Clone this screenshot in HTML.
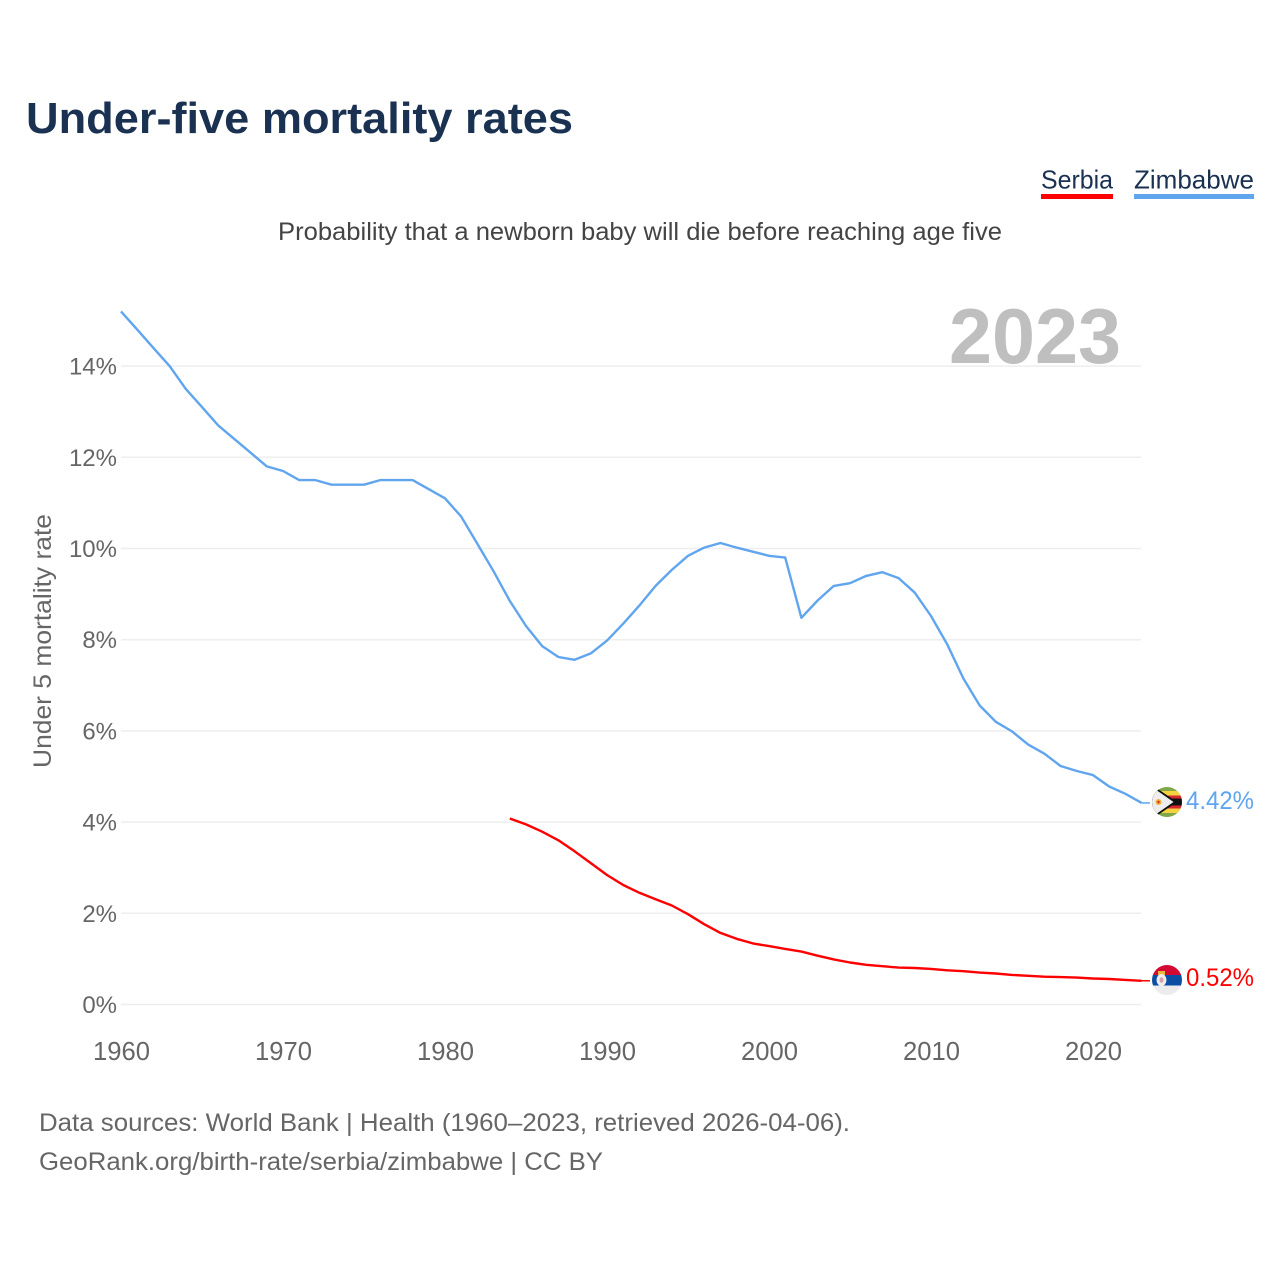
<!DOCTYPE html>
<html lang="en">
<head>
<meta charset="utf-8">
<title>Under-five mortality rates</title>
<style>
html,body{margin:0;padding:0;background:#fff}
svg{display:block}
text{font-family:"Liberation Sans",sans-serif}
</style>
</head>
<body>
<svg id="chart" width="1280" height="1280" viewBox="0 0 1280 1280" xmlns="http://www.w3.org/2000/svg">
  <defs>
    <clipPath id="clip-zim"><circle cx="1167" cy="802" r="15"/></clipPath>
    <clipPath id="clip-srb"><circle cx="1167" cy="980" r="15"/></clipPath>
  </defs>
  <text x="26" y="133" font-size="44" font-weight="700" fill="#1a3152" textLength="547" lengthAdjust="spacingAndGlyphs">Under-five mortality rates</text>
  <text x="278" y="240" font-size="25" fill="#444" textLength="724" lengthAdjust="spacingAndGlyphs">Probability that a newborn baby will die before reaching age five</text>

  <g>
    <text x="1041" y="188.5" font-size="26" fill="#1a3152" textLength="72" lengthAdjust="spacingAndGlyphs">Serbia</text>
    <rect x="1041" y="194" width="72" height="5" fill="#ff0000"/>
  </g>
  <g>
    <text x="1134" y="188.5" font-size="26" fill="#1a3152" textLength="120" lengthAdjust="spacingAndGlyphs">Zimbabwe</text>
    <rect x="1134" y="194" width="120" height="5" fill="#60a5ee"/>
  </g>

  <text x="949" y="363" font-size="78" font-weight="700" fill="#bfbfbf" textLength="172" lengthAdjust="spacingAndGlyphs">2023</text>
  <text transform="translate(51,768) rotate(-90)" x="0" y="0" font-size="25" fill="#666" textLength="254" lengthAdjust="spacingAndGlyphs">Under 5 mortality rate</text>

  <g id="grid"></g>
  <g id="y-ticks"></g>
  <g id="x-ticks"></g>
  <g id="series"></g>

  <g clip-path="url(#clip-zim)">
    <rect x="1152" y="787" width="30" height="30" fill="#7fa84a"/>
    <rect x="1152" y="791" width="30" height="4.5" fill="#f5d33f"/>
    <rect x="1152" y="795.5" width="30" height="3" fill="#d8272e"/>
    <rect x="1152" y="798.5" width="30" height="7" fill="#111"/>
    <rect x="1152" y="805.5" width="30" height="3" fill="#d8272e"/>
    <rect x="1152" y="808.5" width="30" height="4.5" fill="#f5d33f"/>
    <polygon points="1152,785 1177,802 1152,819" fill="#111"/>
    <polygon points="1152,787 1173.5,802 1152,817" fill="#eee"/>
    <circle cx="1158.5" cy="802" r="3" fill="#f0b23a"/>
    <circle cx="1158.5" cy="802" r="1.2" fill="#d8272e"/>
  </g>
  <g clip-path="url(#clip-srb)">
    <rect x="1152" y="965" width="30" height="10" fill="#d40a35"/>
    <rect x="1152" y="975" width="30" height="10.5" fill="#0b4ea2"/>
    <rect x="1152" y="985.5" width="30" height="10" fill="#ececec"/>
    <rect x="1158" y="971" width="7" height="4" fill="#e8b93a"/>
    <ellipse cx="1161.5" cy="980" rx="5" ry="6" fill="#eee"/>
    <ellipse cx="1161.5" cy="980" rx="2" ry="2.8" fill="#d9a0a8"/>
  </g>

  <text x="1186" y="809" font-size="25" fill="#60a5ee" textLength="68" lengthAdjust="spacingAndGlyphs">4.42%</text>
  <text x="1186" y="986" font-size="25" fill="#ff0000" textLength="68" lengthAdjust="spacingAndGlyphs">0.52%</text>

  <text x="39" y="1131" font-size="25" fill="#666" textLength="811" lengthAdjust="spacingAndGlyphs">Data sources: World Bank | Health (1960–2023, retrieved 2026-04-06).</text>
  <text x="39" y="1170" font-size="25" fill="#666" textLength="564" lengthAdjust="spacingAndGlyphs">GeoRank.org/birth-rate/serbia/zimbabwe | CC BY</text>
</svg>
<script>
const zimbabweStartYear = 1960;
const zimbabweValues = [15.2,14.8,14.4,14.0,13.5,13.1,12.7,12.4,12.1,11.8,11.7,11.5,11.5,11.4,11.4,11.4,11.5,11.5,11.5,11.3,11.1,10.7,10.1,9.5,8.85,8.3,7.86,7.62,7.56,7.7,7.98,8.35,8.75,9.18,9.53,9.84,10.02,10.12,10.02,9.93,9.84,9.8,8.48,8.86,9.18,9.24,9.4,9.48,9.35,9.03,8.52,7.9,7.15,6.56,6.2,5.99,5.7,5.5,5.23,5.12,5.03,4.78,4.62,4.42];
const serbiaStartYear = 1984;
const serbiaValues = [4.08,3.95,3.79,3.6,3.36,3.1,2.84,2.62,2.45,2.31,2.17,1.98,1.76,1.57,1.44,1.34,1.28,1.22,1.16,1.07,0.99,0.92,0.87,0.84,0.81,0.80,0.78,0.75,0.73,0.70,0.68,0.65,0.63,0.61,0.60,0.59,0.57,0.56,0.54,0.52];
const yTickValues = [0,2,4,6,8,10,12,14];
const xTickYears = [1960,1970,1980,1990,2000,2010,2020];

const NS = 'http://www.w3.org/2000/svg';
function xScale(year){ return 121 + (year - 1960) * 16.2; }
function yScale(v){ return 1004.5 - v * 45.6; }
function make(tag, attrs, parent){
  const el = document.createElementNS(NS, tag);
  for (const k in attrs) el.setAttribute(k, attrs[k]);
  parent.appendChild(el);
  return el;
}
const grid = document.getElementById('grid');
const yTicks = document.getElementById('y-ticks');
const xTicks = document.getElementById('x-ticks');
const series = document.getElementById('series');

yTickValues.forEach(function(v){
  const line = make('line', {x1:121, x2:1141, y1:yScale(v), y2:yScale(v), stroke:'#eeeeee', 'stroke-width':1.5}, grid);
  
  
  const t = make('text', {x:117, y:yScale(v)+8.5, 'text-anchor':'end', 'font-size':24, fill:'#666'}, yTicks);
  
  
  t.textContent = v + '%';
});
xTickYears.forEach(function(y){
  const t = make('text', {x:xScale(y)+0.5, y:1060, 'text-anchor':'middle', 'font-size':25.6, fill:'#666'}, xTicks);
  
  
  t.textContent = y;
});
function pathFor(values, start){
  return values.map(function(v,i){
    return (i ? 'L' : 'M') + xScale(start + i).toFixed(1) + ' ' + yScale(v).toFixed(1);
  }).join(' ');
}
const zimLine = make('path', {d:pathFor(zimbabweValues, zimbabweStartYear), fill:'none', stroke:'#60a5ee', 'stroke-width':2.4, 'stroke-linejoin':'round'}, series);


const srbLine = make('path', {d:pathFor(serbiaValues, serbiaStartYear), fill:'none', stroke:'#ff0000', 'stroke-width':2.4, 'stroke-linejoin':'round'}, series);


const zimLast = zimbabweValues[zimbabweValues.length - 1];
const srbLast = serbiaValues[serbiaValues.length - 1];
const zimConn = make('line', {x1:xScale(2023), x2:1150, y1:yScale(zimLast), y2:yScale(zimLast), stroke:'#60a5ee', 'stroke-width':1.5}, series);


const srbConn = make('line', {x1:xScale(2023), x2:1150, y1:yScale(srbLast), y2:yScale(srbLast), stroke:'#ff0000', 'stroke-width':1.5}, series);


</script>
</body>
</html>
